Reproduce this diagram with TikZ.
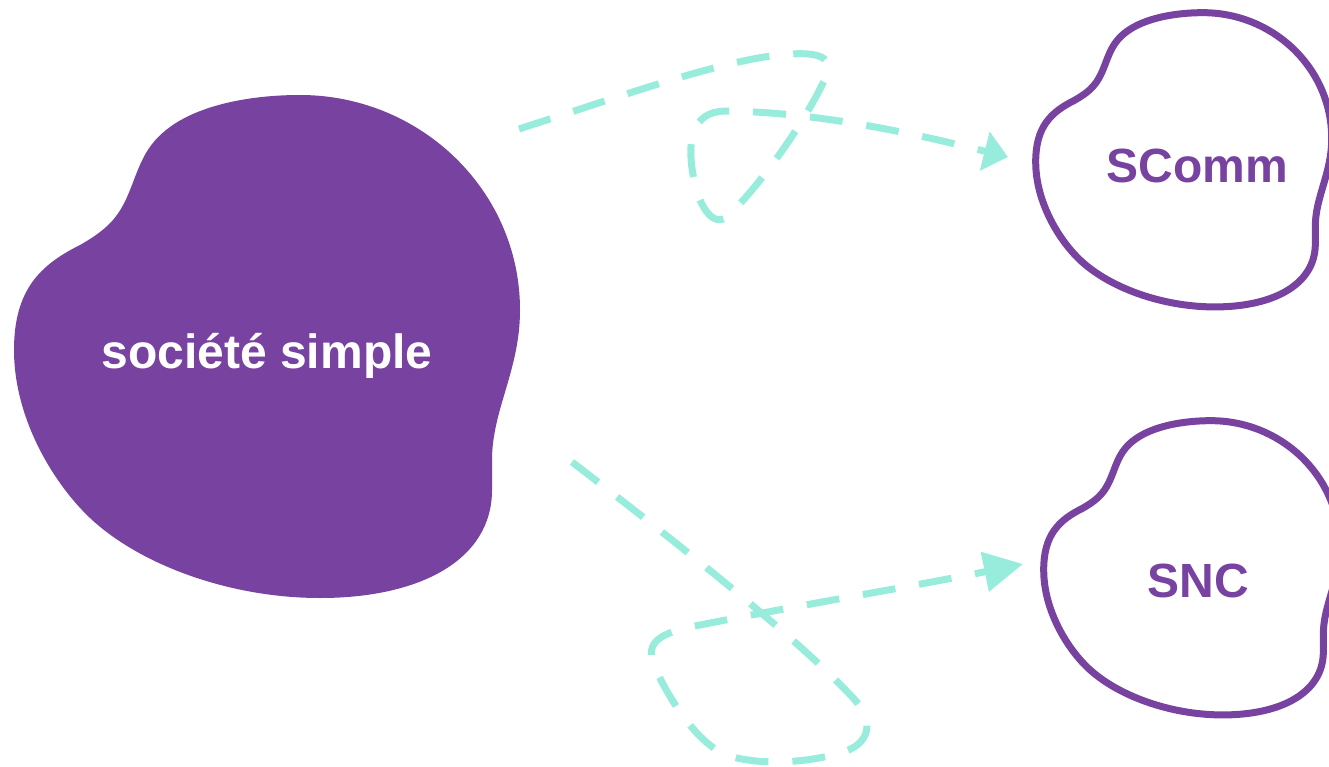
\documentclass[tikz,border=0pt]{standalone}
\usepackage{fontspec}
\setmainfont{Liberation Sans}
\usetikzlibrary{arrows.meta}
\definecolor{blobpurple}{RGB}{120,66,160}
\definecolor{dashteal}{RGB}{152,236,220}
\newcommand{\blobshape}[1]{%
  \path[#1] (300,95)
    .. controls (420,95) and (520,190) .. (520,310)
    .. controls (520,370) and (492,410) .. (492,460)
    -- (492,490)
    .. controls (492,560) and (420,598) .. (320,598)
    .. controls (230,598) and (140,565) .. (90,518)
    .. controls (55,485) and (14,420) .. (14,350)
    .. controls (14,290) and (40,265) .. (80,245)
    .. controls (110,228) and (120,215) .. (130,190)
    .. controls (140,165) and (145,145) .. (170,127)
    .. controls (200,105) and (250,95) .. (300,95) -- cycle;}
\tikzset{
  blobtext/.style={font=\bfseries\fontsize{48}{58}\selectfont, anchor=base, inner sep=0pt},
  outlineblob/.style={draw=blobpurple, fill=white, line width=7pt},
  dashlink/.style={draw=dashteal, line width=7pt, dash pattern=on 33pt off 24pt},
}
\begin{document}
\begin{tikzpicture}[x=1pt, y=-1pt]
  \useasboundingbox (0,0) rectangle (1329,767);
  \begin{scope}
    \clip (0,0) rectangle (1329,767);
    % left filled blob
    \blobshape{fill=blobpurple}
    % right outlined blobs
    \begin{scope}[shift={(1027.5,-42.9)}, scale=0.585]
      \blobshape{outlineblob}
    \end{scope}
    \begin{scope}[shift={(1035.5,365.1)}, scale=0.585]
      \blobshape{outlineblob}
    \end{scope}
  \end{scope}
  % labels
  \node[blobtext, text=white] (ss) at (267,368) {société simple};
  \node[blobtext, text=blobpurple] (scomm) at (1197.5,183) {SComm};
  \node[blobtext, text=blobpurple] (snc) at (1198,597) {SNC};
  % connector ends
  \coordinate (topstart) at (519,129);
  \coordinate (topend) at (1008,157);
  \coordinate (botstart) at (572,462);
  \coordinate (botend) at (1023,564);
  % top connector
  \draw[dashlink, -{Triangle[length=24pt, width=39pt]}] (topstart)
    .. controls (640,90) and (750,50) .. (808,54)
    .. controls (835,56) and (830,72) .. (822,85)
    .. controls (805,120) and (765,180) .. (728,216)
    .. controls (715,228) and (700,210) .. (694,180)
    .. controls (686,140) and (692,112) .. (725,111)
    .. controls (820,112) and (920,135) .. (topend);
  % bottom connector
  \draw[dashlink, -{Triangle[length=39pt, width=39pt]}] (botstart)
    .. controls (680,545) and (800,640) .. (855,700)
    .. controls (875,722) and (870,745) .. (840,753)
    .. controls (800,765) and (745,765) .. (720,752)
    .. controls (690,735) and (665,690) .. (655,668)
    .. controls (645,645) and (655,635) .. (690,627)
    .. controls (800,605) and (920,585) .. (botend);
\end{tikzpicture}
\end{document}
